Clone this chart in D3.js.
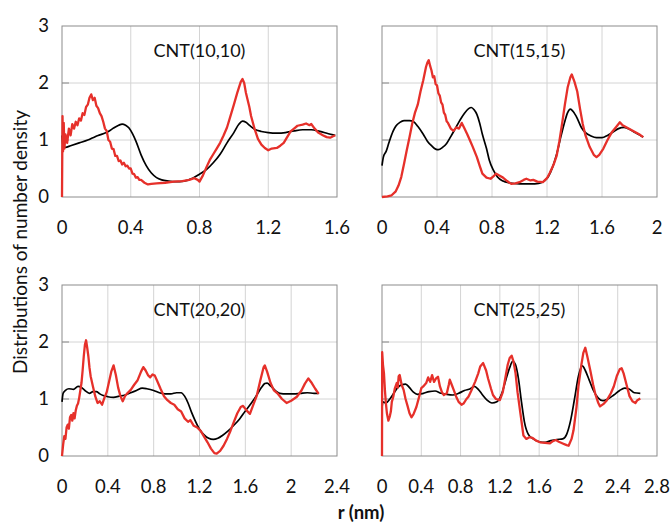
<!DOCTYPE html>
<html>
<head>
<meta charset="utf-8">
<script src="https://cdn.jsdelivr.net/npm/d3@7"></script>
<style>
  body { margin: 0; background: #fff; }
  text { font-family: Lato, "Open Sans", sans-serif; fill: #111; }
</style>
</head>
<body>
<div id="chart"></div>
<script>
// panel titles and x ranges
const titles = ["CNT(10,10)", "CNT(15,15)", "CNT(20,20)", "CNT(25,25)"];
const xMaxes = [1.6, 2, 2.4, 2.8];
const yTickValues = [0, 1, 2, 3];

// black curves, [r (nm), density]
const p1Black = [[0,1.08],[0.006,0.9],[0.02,0.87],[0.05,0.9],[0.1,0.95],[0.15,1.0],[0.18,1.04],[0.21,1.08],[0.24,1.11],[0.27,1.15],[0.3,1.21],[0.33,1.26],[0.35,1.28],[0.37,1.26],[0.39,1.21],[0.41,1.11],[0.43,0.98],[0.46,0.74],[0.49,0.55],[0.52,0.42],[0.55,0.34],[0.58,0.3],[0.62,0.28],[0.66,0.27],[0.71,0.28],[0.76,0.33],[0.8,0.4],[0.84,0.48],[0.88,0.6],[0.92,0.75],[0.96,0.95],[1.0,1.13],[1.03,1.28],[1.05,1.33],[1.07,1.31],[1.09,1.26],[1.12,1.19],[1.16,1.15],[1.2,1.13],[1.25,1.12],[1.3,1.13],[1.35,1.16],[1.4,1.18],[1.45,1.18],[1.5,1.15],[1.55,1.11],[1.59,1.08]];
const p2Black = [[0,0.55],[0.01,0.7],[0.03,0.8],[0.05,0.95],[0.08,1.15],[0.1,1.24],[0.13,1.31],[0.16,1.34],[0.2,1.34],[0.23,1.32],[0.26,1.24],[0.3,1.1],[0.33,0.98],[0.36,0.9],[0.39,0.84],[0.41,0.83],[0.44,0.87],[0.47,0.94],[0.5,1.06],[0.54,1.23],[0.57,1.36],[0.6,1.47],[0.63,1.55],[0.65,1.57],[0.67,1.53],[0.69,1.45],[0.71,1.3],[0.73,1.1],[0.76,0.85],[0.78,0.65],[0.81,0.47],[0.84,0.35],[0.88,0.28],[0.92,0.25],[1.0,0.23],[1.08,0.23],[1.14,0.24],[1.18,0.28],[1.21,0.36],[1.24,0.52],[1.27,0.75],[1.3,1.05],[1.33,1.33],[1.35,1.48],[1.37,1.54],[1.39,1.5],[1.42,1.38],[1.45,1.22],[1.48,1.13],[1.52,1.07],[1.56,1.04],[1.6,1.04],[1.64,1.08],[1.68,1.14],[1.72,1.2],[1.76,1.22],[1.8,1.19],[1.84,1.13],[1.88,1.08],[1.9,1.05]];
const p3Black = [[0,0.95],[0.01,1.1],[0.03,1.15],[0.06,1.18],[0.1,1.17],[0.14,1.22],[0.17,1.2],[0.2,1.15],[0.24,1.1],[0.27,1.13],[0.3,1.13],[0.33,1.09],[0.36,1.06],[0.4,1.04],[0.45,1.03],[0.5,1.05],[0.55,1.07],[0.6,1.11],[0.65,1.15],[0.7,1.19],[0.74,1.18],[0.8,1.15],[0.85,1.11],[0.9,1.09],[0.95,1.09],[1.0,1.11],[1.04,1.11],[1.07,1.05],[1.1,0.93],[1.13,0.77],[1.16,0.63],[1.2,0.47],[1.24,0.37],[1.28,0.31],[1.32,0.29],[1.36,0.31],[1.4,0.36],[1.45,0.44],[1.5,0.54],[1.55,0.65],[1.6,0.79],[1.65,0.92],[1.7,1.07],[1.74,1.2],[1.77,1.27],[1.79,1.28],[1.82,1.23],[1.86,1.15],[1.9,1.1],[1.96,1.09],[2.02,1.09],[2.08,1.1],[2.14,1.11],[2.2,1.1],[2.24,1.1]];
const p4Black = [[0,0.85],[0.01,0.95],[0.04,0.93],[0.08,1.0],[0.12,1.1],[0.16,1.2],[0.2,1.25],[0.24,1.26],[0.28,1.2],[0.32,1.12],[0.36,1.08],[0.42,1.1],[0.48,1.13],[0.54,1.14],[0.6,1.1],[0.66,1.08],[0.72,1.07],[0.78,1.1],[0.84,1.15],[0.9,1.18],[0.94,1.22],[0.98,1.17],[1.02,1.08],[1.07,0.98],[1.12,0.93],[1.17,0.95],[1.22,1.1],[1.26,1.33],[1.3,1.55],[1.33,1.66],[1.36,1.6],[1.39,1.35],[1.42,0.95],[1.45,0.6],[1.49,0.38],[1.54,0.3],[1.6,0.25],[1.66,0.24],[1.72,0.27],[1.78,0.29],[1.84,0.3],[1.88,0.38],[1.92,0.62],[1.96,1.0],[2.0,1.4],[2.04,1.58],[2.07,1.5],[2.11,1.33],[2.15,1.16],[2.2,1.02],[2.25,0.97],[2.3,1.0],[2.36,1.07],[2.42,1.15],[2.47,1.19],[2.52,1.17],[2.57,1.11],[2.63,1.1]];

// red curves, [r (nm), density]
const p1Red = [[0,0],[0.003,1.42],[0.006,0.8],[0.01,1.3],[0.014,0.85],[0.02,1.1],[0.03,0.95],[0.04,1.2],[0.05,1.08],[0.06,1.28],[0.07,1.2],[0.08,1.32],[0.09,1.26],[0.1,1.38],[0.11,1.34],[0.12,1.47],[0.13,1.44],[0.14,1.58],[0.15,1.62],[0.16,1.74],[0.17,1.8],[0.18,1.7],[0.19,1.74],[0.2,1.6],[0.21,1.56],[0.22,1.47],[0.23,1.42],[0.24,1.32],[0.25,1.2],[0.26,1.16],[0.27,1.0],[0.28,0.97],[0.29,0.85],[0.3,0.84],[0.31,0.72],[0.32,0.72],[0.33,0.63],[0.34,0.64],[0.35,0.57],[0.36,0.6],[0.37,0.54],[0.38,0.55],[0.39,0.5],[0.4,0.5],[0.41,0.41],[0.42,0.4],[0.43,0.34],[0.44,0.35],[0.45,0.3],[0.46,0.3],[0.48,0.25],[0.5,0.22],[0.52,0.23],[0.55,0.24],[0.6,0.25],[0.65,0.27],[0.7,0.28],[0.74,0.3],[0.77,0.33],[0.79,0.3],[0.8,0.27],[0.82,0.38],[0.84,0.52],[0.86,0.65],[0.88,0.75],[0.9,0.85],[0.92,0.95],[0.94,1.08],[0.96,1.22],[0.98,1.42],[1.0,1.62],[1.02,1.83],[1.04,2.02],[1.05,2.07],[1.06,2.0],[1.07,1.83],[1.09,1.58],[1.1,1.42],[1.12,1.2],[1.14,1.02],[1.16,0.92],[1.18,0.86],[1.2,0.82],[1.22,0.85],[1.25,0.86],[1.27,0.9],[1.29,0.95],[1.31,1.05],[1.33,1.15],[1.35,1.2],[1.37,1.25],[1.4,1.27],[1.42,1.29],[1.44,1.26],[1.45,1.28],[1.47,1.2],[1.49,1.13],[1.52,1.08],[1.54,1.05],[1.56,1.04],[1.58,1.07],[1.59,1.08]];
const p2Red = [[0,0],[0.04,0.01],[0.07,0.03],[0.1,0.1],[0.12,0.2],[0.14,0.35],[0.16,0.58],[0.18,0.82],[0.2,1.05],[0.22,1.29],[0.24,1.48],[0.26,1.62],[0.28,1.85],[0.3,2.05],[0.32,2.28],[0.33,2.36],[0.34,2.4],[0.35,2.3],[0.36,2.22],[0.37,2.1],[0.38,2.12],[0.39,1.98],[0.4,1.96],[0.41,1.82],[0.42,1.78],[0.43,1.66],[0.44,1.62],[0.45,1.48],[0.46,1.44],[0.47,1.33],[0.48,1.3],[0.5,1.2],[0.52,1.16],[0.54,1.22],[0.56,1.2],[0.58,1.3],[0.6,1.2],[0.62,1.1],[0.64,0.99],[0.66,0.88],[0.69,0.7],[0.71,0.55],[0.73,0.41],[0.76,0.34],[0.79,0.32],[0.81,0.36],[0.83,0.41],[0.85,0.38],[0.88,0.34],[0.91,0.28],[0.94,0.23],[0.97,0.24],[1.0,0.26],[1.03,0.3],[1.05,0.32],[1.08,0.29],[1.1,0.3],[1.13,0.27],[1.17,0.26],[1.2,0.33],[1.22,0.42],[1.25,0.58],[1.27,0.72],[1.29,0.98],[1.31,1.29],[1.33,1.62],[1.35,1.92],[1.37,2.1],[1.38,2.15],[1.4,2.02],[1.42,1.85],[1.44,1.55],[1.46,1.28],[1.48,1.08],[1.51,0.88],[1.54,0.74],[1.56,0.7],[1.58,0.74],[1.61,0.85],[1.64,1.0],[1.67,1.13],[1.7,1.22],[1.73,1.31],[1.75,1.26],[1.78,1.22],[1.81,1.18],[1.84,1.14],[1.87,1.1],[1.9,1.05]];
const p3Red = [[0,0],[0.01,0.2],[0.02,0.35],[0.03,0.3],[0.04,0.5],[0.05,0.55],[0.06,0.48],[0.07,0.68],[0.08,0.72],[0.09,0.62],[0.1,0.75],[0.11,0.66],[0.12,0.8],[0.13,0.88],[0.14,0.92],[0.15,1.02],[0.16,1.15],[0.17,1.28],[0.18,1.5],[0.19,1.75],[0.2,1.95],[0.21,2.03],[0.22,1.9],[0.23,1.75],[0.24,1.55],[0.25,1.4],[0.27,1.22],[0.29,1.05],[0.31,0.93],[0.33,0.96],[0.35,0.9],[0.37,1.02],[0.39,1.12],[0.41,1.3],[0.43,1.48],[0.45,1.59],[0.47,1.42],[0.49,1.2],[0.51,1.05],[0.53,0.96],[0.55,1.05],[0.57,1.1],[0.6,1.16],[0.63,1.25],[0.66,1.33],[0.69,1.48],[0.71,1.56],[0.73,1.5],[0.75,1.42],[0.77,1.38],[0.79,1.43],[0.81,1.41],[0.83,1.32],[0.86,1.18],[0.89,1.05],[0.92,0.98],[0.95,0.93],[0.98,0.9],[1.01,0.82],[1.04,0.78],[1.07,0.66],[1.1,0.6],[1.12,0.63],[1.15,0.53],[1.18,0.5],[1.21,0.44],[1.24,0.34],[1.27,0.24],[1.3,0.13],[1.33,0.05],[1.35,0.04],[1.38,0.09],[1.41,0.18],[1.44,0.3],[1.47,0.44],[1.5,0.6],[1.53,0.75],[1.56,0.86],[1.58,0.88],[1.61,0.8],[1.64,0.74],[1.67,0.9],[1.7,1.06],[1.73,1.32],[1.76,1.56],[1.77,1.59],[1.79,1.48],[1.82,1.28],[1.85,1.15],[1.88,1.1],[1.92,1.0],[1.96,0.93],[2.0,0.97],[2.05,1.04],[2.09,1.15],[2.12,1.27],[2.15,1.36],[2.18,1.28],[2.21,1.18],[2.24,1.09]];
const p4Red = [[0,0],[0.002,1.82],[0.01,1.6],[0.02,1.45],[0.03,1.15],[0.04,0.92],[0.05,0.75],[0.065,0.62],[0.08,0.7],[0.09,0.78],[0.1,0.95],[0.115,1.04],[0.13,1.18],[0.15,1.28],[0.16,1.2],[0.17,1.4],[0.18,1.42],[0.2,1.25],[0.22,1.16],[0.24,1.0],[0.26,0.88],[0.28,0.75],[0.3,0.68],[0.32,0.73],[0.35,0.86],[0.38,1.05],[0.4,1.19],[0.42,1.22],[0.45,1.28],[0.47,1.38],[0.49,1.3],[0.51,1.42],[0.53,1.3],[0.55,1.36],[0.57,1.39],[0.59,1.22],[0.61,1.12],[0.63,1.07],[0.66,1.1],[0.68,1.25],[0.69,1.34],[0.71,1.25],[0.73,1.16],[0.76,1.02],[0.78,0.95],[0.81,0.9],[0.83,0.92],[0.86,1.0],[0.88,1.04],[0.91,1.15],[0.95,1.31],[0.98,1.45],[1.0,1.57],[1.03,1.63],[1.06,1.5],[1.08,1.36],[1.11,1.18],[1.13,1.07],[1.16,1.0],[1.2,0.98],[1.23,1.12],[1.25,1.31],[1.28,1.6],[1.3,1.72],[1.32,1.76],[1.34,1.65],[1.36,1.45],[1.38,1.12],[1.41,0.74],[1.44,0.36],[1.47,0.3],[1.5,0.33],[1.53,0.32],[1.57,0.27],[1.61,0.24],[1.66,0.23],[1.71,0.22],[1.74,0.26],[1.77,0.28],[1.8,0.25],[1.84,0.22],[1.88,0.19],[1.9,0.18],[1.93,0.3],[1.95,0.45],[1.98,0.85],[2.0,1.22],[2.03,1.6],[2.05,1.81],[2.07,1.9],[2.09,1.75],[2.12,1.51],[2.15,1.25],[2.17,1.1],[2.2,0.94],[2.22,0.87],[2.26,0.92],[2.29,0.98],[2.33,1.1],[2.36,1.22],[2.39,1.4],[2.42,1.52],[2.44,1.54],[2.46,1.45],[2.49,1.25],[2.52,1.05],[2.55,0.96],[2.58,0.93],[2.6,0.98],[2.63,1.01]];

const blacks = [p1Black, p2Black, p3Black, p4Black];
const reds = [p1Red, p2Red, p3Red, p4Red];

const width = 671, height = 523;
const pw = 275, ph = 171;
const origins = [[62, 26], [382, 26], [62, 285], [382, 285]];
const fmt = d3.format(".1~f");

const svg = d3.select("#chart").append("svg")
  .attr("width", width)
  .attr("height", height);

titles.forEach((title, i) => {
  const [ox, oy] = origins[i];
  const g = svg.append("g").attr("transform", `translate(${ox},${oy})`);

  const x = d3.scaleLinear().domain([0, xMaxes[i]]).range([0, pw]);
  const y = d3.scaleLinear().domain([0, 3]).range([ph, 0]);
  const xTicks = d3.range(0, xMaxes[i] + 0.001, 0.4);

  // gridlines
  g.append("g").selectAll("line.vgrid")
    .data(xTicks.slice(1, -1))
    .enter().append("line")
    .attr("x1", d => x(d)).attr("x2", d => x(d))
    .attr("y1", 0).attr("y2", ph)
    .attr("stroke", "#d4d4d4");
  g.append("g").selectAll("line.hgrid")
    .data([1, 2])
    .enter().append("line")
    .attr("x1", 0).attr("x2", pw)
    .attr("y1", d => y(d)).attr("y2", d => y(d))
    .attr("stroke", "#d4d4d4");
  // short ticks on the left edge
  g.append("g").selectAll("line.ytick")
    .data([1, 2])
    .enter().append("line")
    .attr("x1", 0).attr("x2", 7)
    .attr("y1", d => y(d)).attr("y2", d => y(d))
    .attr("stroke", "#8a8a8a");

  g.append("rect")
    .attr("width", pw).attr("height", ph)
    .attr("fill", "none")
    .attr("stroke", "#8c8c8c");

  // x tick labels
  g.append("g").selectAll("text")
    .data(xTicks)
    .enter().append("text")
    .attr("x", d => x(d))
    .attr("y", ph + 31)
    .attr("dy", "0.35em")
    .attr("text-anchor", "middle")
    .style("font-size", "18.5px")
    .text(d => fmt(d));

  // y tick labels on the left column only
  if (i % 2 == 0) {
    g.append("g").selectAll("text")
      .data(yTickValues)
      .enter().append("text")
      .attr("x", -13)
      .attr("y", d => y(d))
      .attr("dy", "0.35em")
      .attr("text-anchor", "end")
      .style("font-size", "18.5px")
      .text(d => d);
  }

  g.append("text")
    .attr("x", pw / 2)
    .attr("y", 25)
    .attr("dy", "0.35em")
    .attr("text-anchor", "middle")
    .style("font-size", "18px")
    .text(title);

  const line = d3.line()
    .x(d => x(d[0]))
    .y(d => y(d[1]));

  g.append("path")
    .datum(blacks[i])
    .attr("d", line.curve(d3.curveMonotoneX))
    .attr("fill", "none")
    .attr("stroke", "#000")
    .attr("stroke-width", 1.7);

  g.append("path")
    .datum(reds[i])
    .attr("d", line.curve(d3.curveLinear))
    .attr("fill", "none")
    .attr("stroke", "#e6302a")
    .attr("stroke-width", 2.3)
    .attr("stroke-linejoin", "round");
});

// axis titles
svg.append("text")
  .attr("transform", "translate(20,242) rotate(-90)")
  .attr("dy", "0.35em")
  .attr("text-anchor", "middle")
  .style("font-size", "19px")
  .text("Distributions of number density");

svg.append("text")
  .attr("x", 361)
  .attr("y", 513)
  .attr("dy", "0.35em")
  .attr("text-anchor", "middle")
  .style("font-size", "18.5px")
  .style("font-weight", "bold")
  .text("r (nm)");
</script>
</body>
</html>
